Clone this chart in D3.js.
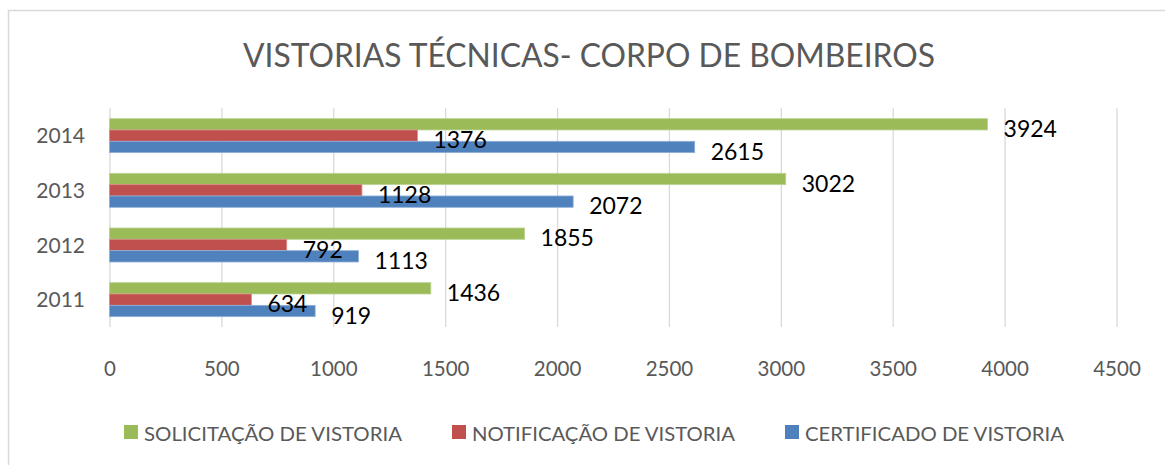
<!DOCTYPE html>
<html>
<head>
<meta charset="utf-8">
<script src="https://cdn.jsdelivr.net/npm/d3@7"></script>
<style>
  html, body { margin: 0; padding: 0; background: #fff; }
  svg { display: block; }
  text { font-family: Lato, "Open Sans", sans-serif; }
</style>
</head>
<body>
<svg id="chart" width="1165" height="465"></svg>
<script>
// ---- data ----
const title = "VISTORIAS TÉCNICAS- CORPO DE BOMBEIROS";
const years = ["2011", "2012", "2013", "2014"];
const seriesNames = ["SOLICITAÇÃO DE VISTORIA", "NOTIFICAÇÃO DE VISTORIA", "CERTIFICADO DE VISTORIA"];
const solicitacao = [1436, 1855, 3022, 3924];
const notificacao = [634, 792, 1128, 1376];
const certificado = [919, 1113, 2072, 2615];
const xTicks = [0, 500, 1000, 1500, 2000, 2500, 3000, 3500, 4000, 4500];

const colors = ["#9BBB59", "#C0504D", "#4F81BD"];
const strokes = ["#bcd494", "#d98c8a", "#8fb0d8"];
const seriesValues = [solicitacao, notificacao, certificado];

const svg = d3.select("#chart");

// chart border (Excel chart area)
svg.append("rect")
  .attr("x", 8.5).attr("y", 10.5)
  .attr("width", 1200).attr("height", 500)
  .attr("fill", "none").attr("stroke", "#d9d9d9").attr("stroke-width", 1.5);

// scales
const x = d3.scaleLinear().domain([0, 4500]).range([109.5, 1116.5]);
const y = d3.scaleBand()
  .domain(years.slice().reverse())
  .range([108.3, 327])
  .paddingInner(0.378)
  .paddingOuter(0.189);
const ySub = d3.scaleBand().domain(d3.range(seriesNames.length)).range([0, y.bandwidth()]);

// title
svg.append("text")
  .attr("x", 589).attr("y", 66.5)
  .attr("text-anchor", "middle")
  .attr("font-size", 32.5)
  .attr("fill", "#595959")
  .attr("textLength", 692)
  .attr("lengthAdjust", "spacingAndGlyphs")
  .text(title);

// gridlines via axis
const gridAxis = d3.axisBottom(x).tickValues(xTicks).tickSize(-(327 - 108.3)).tickFormat("");
const grid = svg.append("g").attr("transform", "translate(0,327)").call(gridAxis);
grid.select(".domain").remove();
grid.selectAll("line").attr("stroke", "#d9d9d9").attr("stroke-width", 1.3);

// x tick labels
const xAxis = d3.axisBottom(x).tickValues(xTicks).tickSize(0).tickPadding(0).tickFormat(d3.format("d"));
const xg = svg.append("g").attr("transform", "translate(0,369)").call(xAxis);
xg.select(".domain").remove();
xg.selectAll("text")
  .attr("font-family", "Lato, sans-serif")
  .attr("font-size", 20.5)
  .attr("fill", "#595959")
  .attr("dy", "0.35em")
  .attr("y", 0);

// y axis labels
const yAxis = d3.axisLeft(y).tickSize(0).tickPadding(0);
const yg = svg.append("g").attr("transform", "translate(85,0)").call(yAxis);
yg.select(".domain").remove();
yg.selectAll("text")
  .attr("font-family", "Lato, sans-serif")
  .attr("font-size", 21)
  .attr("fill", "#595959")
  .attr("dy", "0.37em")
  .attr("x", 0);

// bars
seriesValues.forEach((vals, si) => {
  const g = svg.append("g");
  g.selectAll("rect")
    .data(years.map((yr, i) => ({ yr, v: vals[i] })))
    .join("rect")
    .attr("x", x(0))
    .attr("y", d => y(d.yr) + ySub(si))
    .attr("width", d => x(d.v) - x(0))
    .attr("height", ySub.bandwidth())
    .attr("fill", colors[si])
    .attr("stroke", strokes[si])
    .attr("stroke-width", 0.8);
});

// data labels
seriesValues.forEach((vals, si) => {
  svg.append("g").selectAll("text")
    .data(years.map((yr, i) => ({ yr, v: vals[i] })))
    .join("text")
    .attr("x", d => x(d.v) + 16)
    .attr("y", d => y(d.yr) + ySub(si) + ySub.bandwidth() / 2 + 4.5)
    .attr("dy", "0.36em")
    .attr("font-size", 23)
    .attr("fill", "#000")
    .text(d => d.v);
});

// legend
const legendX = [124, 452, 785];
const legendW = [258, 263, 259];
const lg = svg.append("g");
seriesNames.forEach((name, i) => {
  lg.append("rect")
    .attr("x", legendX[i]).attr("y", 425)
    .attr("width", 14).attr("height", 14)
    .attr("fill", colors[i]);
  lg.append("text")
    .attr("x", legendX[i] + 20).attr("y", 441)
    .attr("font-size", 20)
    .attr("fill", "#595959")
    .attr("textLength", legendW[i])
    .attr("lengthAdjust", "spacingAndGlyphs")
    .text(name);
});
</script>
</body>
</html>
